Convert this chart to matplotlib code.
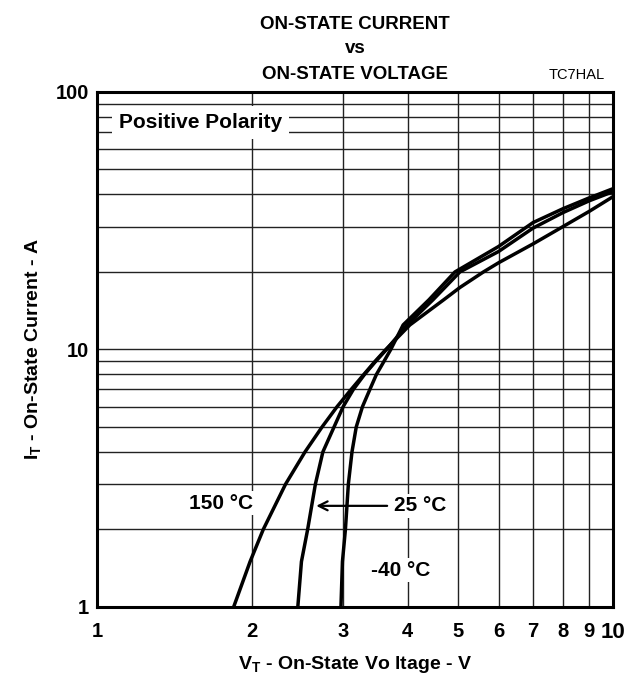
import numpy as np
import matplotlib
matplotlib.use('Agg')
import matplotlib.pyplot as plt
from matplotlib.ticker import FixedLocator, FixedFormatter, NullFormatter

plt.rcParams['font.family'] = ['Liberation Sans', 'DejaVu Sans']
plt.rcParams['mathtext.default'] = 'regular'

# curve data (V_T in volts, I_T in amps)
v_150 = [1.84, 1.98, 2.10, 2.32, 2.53, 2.73, 2.92, 3.11, 3.29, 3.46, 3.63, 4.04, 4.70, 5.05, 5.61, 6.0, 7.0, 8.0, 9.0, 10.0]
i_150 = [1, 1.5, 2, 3, 4, 5, 6, 7, 8, 9, 10, 12.45, 15.6, 17.4, 20, 21.7, 25.7, 30, 34.4, 39.2]

v_25 = [2.45, 2.49, 2.56, 2.65, 2.74, 2.88, 3.00, 3.14, 3.30, 3.47, 3.64, 3.99, 4.48, 5.05, 6.0, 7.0, 8.0, 9.0, 10.0]
i_25 = [1, 1.5, 2, 3, 4, 5, 6, 7, 8, 9, 10, 12.45, 15.6, 20, 24.0, 29.6, 34.0, 37.8, 41]

v_m40 = [2.97, 2.99, 3.03, 3.07, 3.12, 3.18, 3.27, 3.38, 3.48, 3.60, 3.71, 3.92, 4.40, 4.94, 6.0, 7.0, 8.0, 9.0, 10.0]
i_m40 = [1, 1.5, 2, 3, 4, 5, 6, 7, 8, 9, 10, 12.45, 15.6, 20, 25.1, 31.1, 35.2, 38.8, 42.1]

x_ticks = [1, 2, 3, 4, 5, 6, 7, 8, 9, 10]
y_ticks = [1, 10, 100]
y_grid = [2, 3, 4, 5, 6, 7, 8, 9, 20, 30, 40, 50, 60, 70, 80, 90]

fig = plt.figure(figsize=(6.42, 6.80), dpi=100)
ax = fig.add_axes([0.1511, 0.1074, 0.8037, 0.7574])

ax.set_xscale('log')
ax.set_yscale('log')
ax.set_xlim(1, 10)
ax.set_ylim(1, 100)

ax.xaxis.set_major_locator(FixedLocator(x_ticks))
ax.xaxis.set_minor_locator(FixedLocator([]))
ax.yaxis.set_major_locator(FixedLocator(y_ticks))
ax.yaxis.set_minor_locator(FixedLocator(y_grid))
ax.xaxis.set_major_formatter(FixedFormatter([str(t) for t in x_ticks]))
ax.yaxis.set_major_formatter(FixedFormatter([str(t) for t in y_ticks]))
ax.yaxis.set_minor_formatter(NullFormatter())
ax.grid(True, which='both', color='#222222', linewidth=1.0)
ax.tick_params(which='both', length=0, labelsize=14.5)
ax.tick_params(axis='x', pad=11)
ax.tick_params(axis='y', pad=6)
for lbl in ax.get_xticklabels() + ax.get_yticklabels():
    lbl.set_fontweight('bold')
ax.get_xticklabels()[-1].set_fontsize(16)
for s in ax.spines.values():
    s.set_linewidth(2.2)

for v, i in [(v_150, i_150), (v_25, i_25), (v_m40, i_m40)]:
    ax.plot(v, i, color='black', linewidth=2.5, solid_joinstyle='round')

bbox = dict(facecolor='white', edgecolor='none', pad=2)
ax.text(0.2, 0.94, 'Positive Polarity', transform=ax.transAxes, ha='center', va='center',
        fontsize=15, fontweight='bold', bbox=dict(facecolor='white', edgecolor='none', pad=5))
ax.text(1.74, 2.53, '150 °C', ha='center', va='center', fontsize=15, fontweight='bold', bbox=bbox)
ax.text(4.23, 2.47, '25 °C', ha='center', va='center', fontsize=15, fontweight='bold', bbox=bbox)
ax.text(3.87, 1.39, '-40 °C', ha='center', va='center', fontsize=15, fontweight='bold', bbox=bbox)
ax.annotate('', xy=(2.66, 2.47), xytext=(3.65, 2.47),
            arrowprops=dict(arrowstyle='->', color='black', lw=1.6, mutation_scale=16,
                            shrinkA=0, shrinkB=0))

fig.text(0.553, 0.964, 'ON-STATE CURRENT', ha='center', va='center', fontsize=13.5, fontweight='bold')
fig.text(0.553, 0.928, 'vs', ha='center', va='center', fontsize=13.5, fontweight='bold')
fig.text(0.553, 0.891, 'ON-STATE VOLTAGE', ha='center', va='center', fontsize=13.5, fontweight='bold')
fig.text(0.898, 0.889, 'TC7HAL', ha='center', va='center', fontsize=10.5)

ax.set_xlabel(r'V$_\mathregular{T}$ - On-State Vo ltage - V', fontsize=14, fontweight='bold', labelpad=8)
ax.set_ylabel(r'I$_\mathregular{T}$ - On-State Current - A', fontsize=14, fontweight='bold', labelpad=9)

fig.savefig('out.png', dpi=100)
